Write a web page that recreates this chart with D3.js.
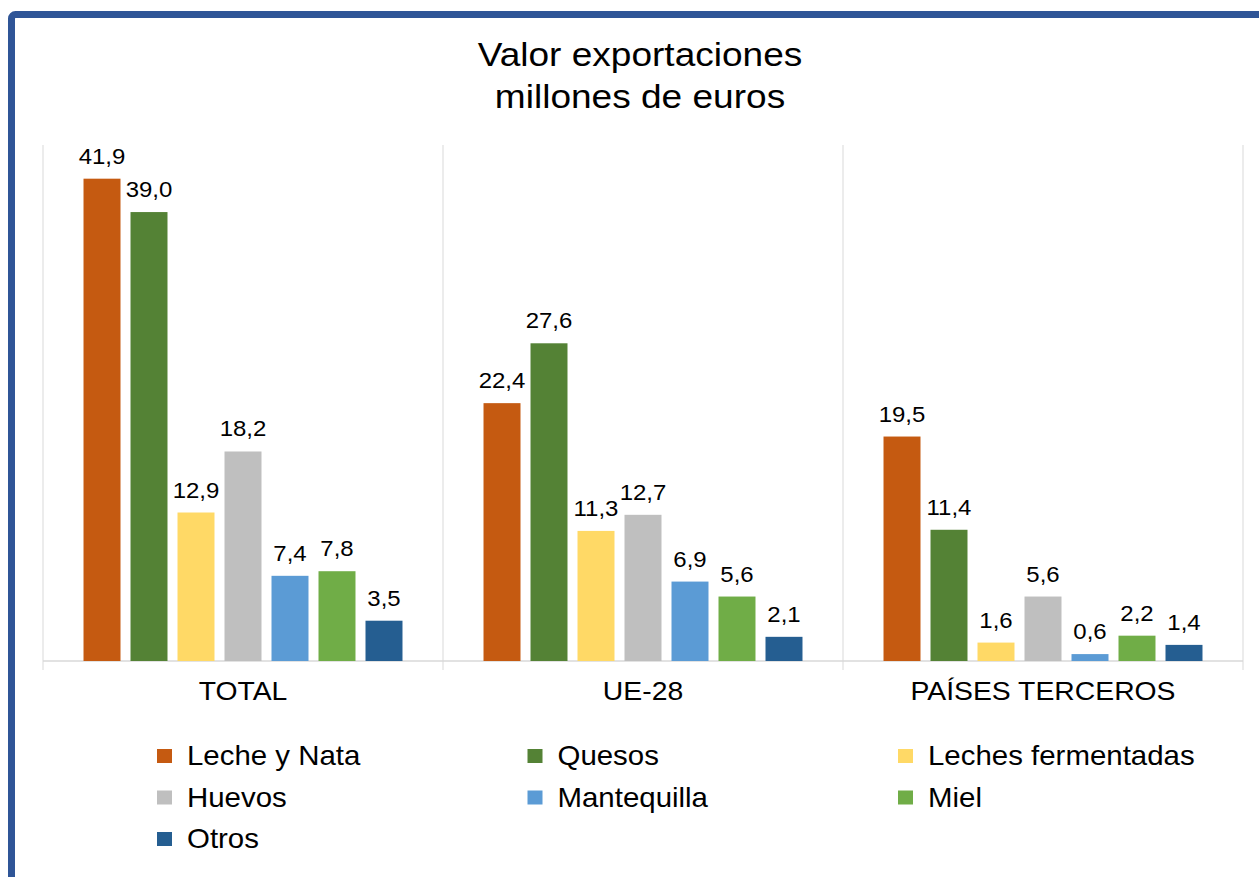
<!DOCTYPE html>
<html>
<head>
<meta charset="utf-8">
<script src="https://cdn.jsdelivr.net/npm/d3@7"></script>
<style>
  body { margin: 0; background: #fff; }
  text { font-family: "Liberation Sans", Arial, sans-serif; fill: #000; }
</style>
</head>
<body>
<script>
// data
const regiones = ["TOTAL", "UE-28", "PAÍSES TERCEROS"];
const productos = ["Leche y Nata", "Quesos", "Leches fermentadas", "Huevos", "Mantequilla", "Miel", "Otros"];
const colores = ["#C55A11", "#548235", "#FFD966", "#BFBFBF", "#5B9BD5", "#70AD47", "#255E91"];
const valTotal = [41.9, 39.0, 12.9, 18.2, 7.4, 7.8, 3.5];
const valUE = [22.4, 27.6, 11.3, 12.7, 6.9, 5.6, 2.1];
const valTerceros = [19.5, 11.4, 1.6, 5.6, 0.6, 2.2, 1.4];
const valores = [valTotal, valUE, valTerceros];

const width = 1259, height = 877;
const es = d3.formatLocale({ decimal: ",", thousands: ".", grouping: [3], currency: ["", " €"] });
const fmt = es.format(".1f");
// el texto del original sale algo ensanchado
const sx = 1.09;
const pos = (x, y) => `translate(${x},${y}) scale(${sx},1)`;

let svg = d3.select("body").append("svg")
    .attr("width", width)
    .attr("height", height);

// marco azul
svg.append("rect")
    .attr("x", 11.5).attr("y", 14.5)
    .attr("width", 1300).attr("height", 900)
    .attr("rx", 4)
    .attr("fill", "#fff")
    .attr("stroke", "#2F5597")
    .attr("stroke-width", 7);

// titulo
svg.selectAll("text.tit")
    .data(["Valor exportaciones", "millones de euros"])
    .enter()
    .append("text")
    .attr("class", "tit")
    .attr("transform", (d, i) => pos(640, 66 + i * 42))
    .attr("text-anchor", "middle")
    .style("font-size", "34px")
    .text(d => d);

let x0 = d3.scaleBand()
    .domain(regiones)
    .range([43, 1243]);

let x1 = d3.scaleBand()
    .domain(productos)
    .range([0, x0.bandwidth()])
    .paddingInner(0.213)
    .paddingOuter(0.862);

let y = d3.scaleLinear()
    .domain([0, 45])
    .range([661, 143]);

// rejilla vertical entre categorias
let g = svg.append("g");
g.selectAll("line.sep")
    .data(regiones.concat(["fin"]))
    .enter()
    .append("line")
    .attr("x1", (d, i) => 43 + i * x0.step())
    .attr("x2", (d, i) => 43 + i * x0.step())
    .attr("y1", 145)
    .attr("y2", 670)
    .attr("stroke", "#D9D9D9")
    .attr("stroke-width", 1);

g.append("line")
    .attr("x1", 43).attr("x2", 1243)
    .attr("y1", y(0)).attr("y2", y(0))
    .attr("stroke", "#D9D9D9")
    .attr("stroke-width", 1.5);

// barras
let grupos = svg.selectAll("g.region")
    .data(regiones)
    .enter()
    .append("g")
    .attr("class", "region")
    .attr("transform", d => `translate(${x0(d)},0)`);

grupos.selectAll("rect")
    .data((d, i) => valores[i].map((v, j) => ({ prod: productos[j], v: v, c: colores[j] })))
    .enter()
    .append("rect")
    .attr("x", d => x1(d.prod))
    .attr("width", x1.bandwidth())
    .attr("y", d => y(d.v))
    .attr("height", d => y(0) - y(d.v))
    .attr("fill", d => d.c);

grupos.selectAll("text.val")
    .data((d, i) => valores[i].map((v, j) => ({ prod: productos[j], v: v })))
    .enter()
    .append("text")
    .attr("class", "val")
    .attr("transform", d => pos(x1(d.prod) + x1.bandwidth() / 2, y(d.v) - 15))
    .attr("text-anchor", "middle")
    .style("font-size", "22px")
    .text(d => fmt(d.v));

// etiquetas de categoria
svg.selectAll("text.cat")
    .data(regiones)
    .enter()
    .append("text")
    .attr("class", "cat")
    .attr("transform", d => pos(x0(d) + x0.bandwidth() / 2, 700))
    .attr("text-anchor", "middle")
    .style("font-size", "26px")
    .text(d => d);

// leyenda
let leyenda = svg.selectAll("g.ley")
    .data(productos)
    .enter()
    .append("g")
    .attr("class", "ley")
    .attr("transform", (d, i) => `translate(${157 + (i % 3) * 370.5},${765 + Math.floor(i / 3) * 41.5})`);

leyenda.append("rect")
    .attr("x", 0).attr("y", -16)
    .attr("width", 15).attr("height", 14)
    .attr("fill", (d, i) => colores[i]);

leyenda.append("text")
    .attr("transform", pos(30, 0))
    .style("font-size", "27px")
    .text(d => d);
</script>
</body>
</html>
